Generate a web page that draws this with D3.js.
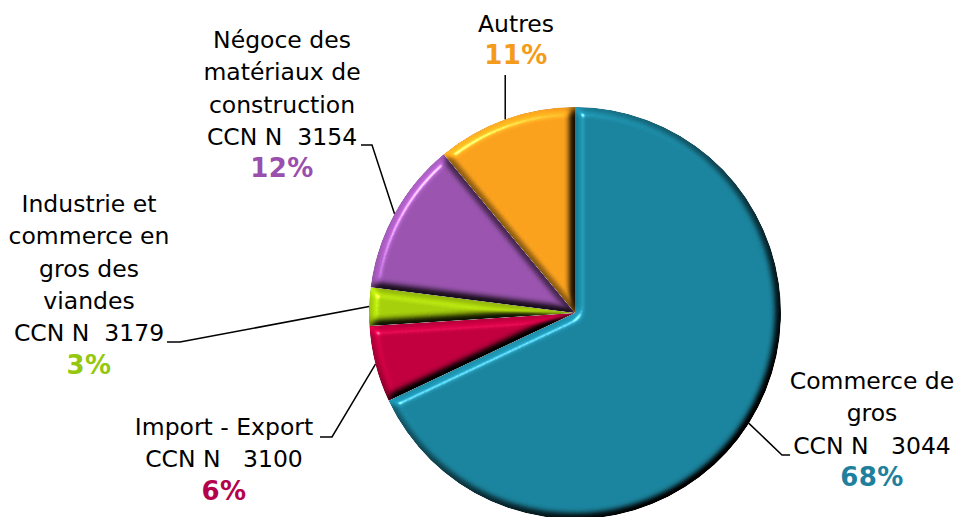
<!DOCTYPE html>
<html>
<head>
<meta charset="utf-8">
<script src="https://cdn.jsdelivr.net/npm/d3@7"></script>
<style>
  html, body { margin: 0; padding: 0; background: #fff; }
  svg text { font-family: "DejaVu Sans", Verdana, sans-serif; white-space: pre; }
</style>
</head>
<body>
<div id="chart"></div>
<script>
// Répartition par convention collective
const categories = ['Commerce de gros', 'Import - Export', 'Industrie viandes', 'Négoce matériaux', 'Autres'];
const values = [68, 6, 3, 12, 11];
const labelLines = [
    ['Commerce de', 'gros', 'CCN N   3044'],
    ['Import - Export', 'CCN N   3100'],
    ['Industrie et', 'commerce en', 'gros des', 'viandes', 'CCN N  3179'],
    ['Négoce des', 'matériaux de', 'construction', 'CCN N  3154'],
    ['Autres']
];
const pctLabels = ['68%', '6%', '3%', '12%', '11%'];

// couleurs
const sliceColors = ['#1b859f', '#c2003f', '#a7d00c', '#9b55b0', '#faa21e'];
const pctColors = ['#1e809c', '#b3024b', '#94c80f', '#9a4eae', '#f49b1b'];

// position des étiquettes (centre x, première ligne y) et lignes de rappel
const labelPos = [
    { x: 872, y: 389, line: [[790, 455], [782, 455]] },
    { x: 224, y: 435, line: [[320, 437], [332, 437]] },
    { x: 89, y: 212, line: [[167, 342], [180, 342]] },
    { x: 282, y: 48, line: [[361, 145], [372, 145]] },
    { x: 516, y: 32, line: [[507, 75]] }
];

const W = 969, H = 517;
const cx = 575, cy = 313, radius = 206;
const lineH = 32.3;

const svg = d3.select('#chart').append('svg')
    .attr('width', W)
    .attr('height', H);

// filtre biseau
const defs = svg.append('defs');
const f = defs.append('filter').attr('id', 'bevel')
    .attr('color-interpolation-filters', 'sRGB')
    .attr('x', '-5%').attr('y', '-5%').attr('width', '110%').attr('height', '110%');
f.append('feGaussianBlur').attr('in', 'SourceAlpha').attr('stdDeviation', 4.5).attr('result', 'blur');
f.append('feDiffuseLighting').attr('in', 'blur').attr('surfaceScale', 9)
    .attr('diffuseConstant', 1).attr('lighting-color', '#fff').attr('result', 'diff')
    .append('feDistantLight').attr('azimuth', 225).attr('elevation', 55);
f.append('feComposite').attr('in', 'SourceGraphic').attr('in2', 'diff')
    .attr('operator', 'arithmetic').attr('k1', 1.22).attr('k2', 0).attr('k3', 0).attr('k4', 0)
    .attr('result', 'shaded');
f.append('feSpecularLighting').attr('in', 'blur').attr('surfaceScale', 9)
    .attr('specularConstant', 0.5).attr('specularExponent', 60)
    .attr('lighting-color', '#fff').attr('result', 'spec')
    .append('feDistantLight').attr('azimuth', 225).attr('elevation', 40);
f.append('feComposite').attr('in', 'spec').attr('in2', 'SourceAlpha')
    .attr('operator', 'in').attr('result', 'specIn');
f.append('feComposite').attr('in', 'shaded').attr('in2', 'specIn')
    .attr('operator', 'arithmetic').attr('k1', 0).attr('k2', 1).attr('k3', 1).attr('k4', 0)
    .attr('result', 'lit');
f.append('feComposite').attr('in', 'lit').attr('in2', 'SourceAlpha').attr('operator', 'in');

const pie = d3.pie().sort(null).value(d => d);
const arcs = pie(values);
const arc = d3.arc().innerRadius(0).outerRadius(radius);

const g = svg.append('g').attr('transform', `translate(${cx},${cy})`);

g.selectAll('path.slice')
    .data(arcs)
    .enter().append('path')
    .attr('class', 'slice')
    .attr('d', arc)
    .attr('fill', (d, i) => sliceColors[i])
    .attr('filter', 'url(#bevel)');

// lignes de rappel
arcs.forEach((d, i) => {
    const a = (d.startAngle + d.endAngle) / 2;
    const end = [cx + radius * Math.sin(a), cy - radius * Math.cos(a)];
    let pts = labelPos[i].line.slice();
    if (pts.length === 1) pts = [[end[0], pts[0][1]]];
    pts.push(end);
    svg.append('path')
        .attr('d', d3.line()(pts))
        .attr('fill', 'none')
        .attr('stroke', '#000')
        .attr('stroke-width', 1.5);
});

// étiquettes
labelLines.forEach((lines, i) => {
    const p = labelPos[i];
    const t = svg.append('text')
        .attr('text-anchor', 'middle')
        .attr('font-size', 23.5);
    lines.forEach((s, j) => {
        t.append('tspan')
            .attr('x', p.x)
            .attr('y', p.y + j * lineH)
            .attr('fill', '#000')
            .text(s);
    });
    t.append('tspan')
        .attr('x', p.x)
        .attr('y', p.y + lines.length * lineH)
        .attr('fill', pctColors[i])
        .attr('font-weight', 'bold')
        .attr('font-size', 26)
        .attr('letter-spacing', 0.5)
        .text(pctLabels[i]);
});
</script>
</body>
</html>
